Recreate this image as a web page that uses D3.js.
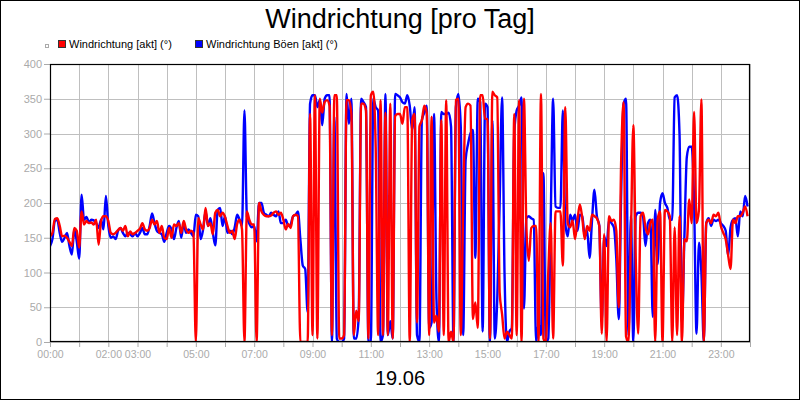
<!DOCTYPE html>
<html>
<head>
<meta charset="utf-8">
<script src="https://cdn.jsdelivr.net/npm/d3@7"></script>
<style>
  html, body { margin: 0; padding: 0; background: #fff; }
  svg { display: block; }
  text { font-family: Arial, "Liberation Sans", sans-serif; }
</style>
</head>
<body>
<svg id="chart" width="800" height="400"></svg>
<script>
// ---- data (5-minute values, 00:00 .. 23:55) ----
const title = "Windrichtung [pro Tag]";
const dateLabel = "19.06";
const seriesNames = ["Windrichtung [akt] (°)", "Windrichtung Böen [akt] (°)"];
const yTicks = [0, 50, 100, 150, 200, 250, 300, 350, 400];
const xTickHours = [0,1,2,3,4,5,6,7,8,9,10,11,12,13,14,15,16,17,18,19,20,21,22,23,24];
const xLabelHours = ["00:00", null, "02:00", "03:00", null, "05:00", null, "07:00", null, "09:00", null, "11:00", null, "13:00", null, "15:00", null, "17:00", null, "19:00", null, "21:00", null, "23:00", null];

const windDir = [
  152,157,177,178,167,152,153,150,144,138,164,160,
  136,188,169,174,171,172,169,176,140,174,181,181,
  174,157,155,157,161,164,160,167,152,159,155,157,
  160,163,171,162,160,164,176,169,174,157,167,150,
  148,164,150,169,167,171,157,174,162,157,160,157,
  0,178,169,162,193,167,171,155,186,190,181,186,
  180,167,157,160,148,170,176,162,0,188,176,169,
  169,0,200,188,183,181,181,182,186,188,183,186,
  176,162,170,164,181,183,181,0,0,0,0,328,
  10,355,5,350,330,345,348,340,10,355,355,5,
  5,10,348,348,328,10,45,30,343,343,333,5,
  355,360,280,10,348,10,330,10,343,5,325,328,
  328,314,338,338,0,319,328,28,310,319,340,330,
  10,324,28,38,15,319,10,348,0,15,0,348,
  350,10,200,338,343,340,33,57,20,355,355,321,
  321,5,360,355,352,71,40,5,15,10,5,328,
  10,348,0,350,165,117,164,167,167,0,357,5,
  0,100,171,5,188,188,188,110,338,171,165,175,
  148,175,198,178,148,167,160,183,181,178,167,12,
  155,0,181,174,176,160,50,262,345,8,0,150,
  312,119,12,181,186,165,155,171,176,0,176,188,
  0,190,188,181,0,165,10,181,0,148,145,205,
  171,331,171,190,349,0,171,176,171,183,181,186,
  167,157,148,125,105,176,171,181,181,186,195,181
];

const windDirGust = [
  138,148,174,176,157,144,150,157,138,126,162,145,
  120,212,176,180,172,176,175,171,164,176,162,210,
  167,150,152,148,160,164,157,152,157,155,152,157,
  152,157,164,155,155,167,185,171,160,157,155,144,
  157,167,162,148,164,174,150,171,157,162,157,152,
  183,181,148,162,188,167,178,157,139,190,193,167,
  181,157,160,155,165,183,176,167,333,181,170,165,
  167,145,200,200,186,183,181,186,183,181,188,171,
  171,176,167,169,181,183,188,148,110,105,43,343,
  355,355,338,348,312,350,355,355,0,324,5,0,
  0,5,357,314,350,5,5,35,350,345,338,0,
  0,350,338,333,0,10,357,10,30,5,357,355,
  352,345,343,355,340,305,338,10,0,319,330,340,
  20,28,328,62,0,331,328,328,330,310,0,338,
  357,310,10,262,285,300,305,121,350,345,15,343,
  338,0,319,5,60,200,352,100,0,15,20,300,
  333,340,352,48,178,181,178,176,0,26,10,243,
  0,5,176,350,195,193,193,333,171,152,183,175,
  183,160,183,181,152,160,121,175,219,181,167,28,
  152,138,176,171,165,119,33,214,343,350,10,181,
  0,181,186,186,180,138,171,176,36,190,112,200,
  214,200,193,176,176,352,355,300,28,150,266,281,
  281,200,12,143,100,0,171,178,167,176,174,176,
  171,167,160,124,165,176,178,152,188,181,210,195
];

// ---- drawing ----
const svg = d3.select("#chart");
const W = 800, H = 400;
const plot = { left: 50, right: 750, top: 64, bottom: 342 };

svg.append("rect").attr("x", 0.5).attr("y", 0.5).attr("width", W - 1).attr("height", H - 1)
  .attr("fill", "#fff").attr("stroke", "#000").attr("stroke-width", 1);

const x = d3.scaleLinear().domain([0, 24 * 60]).range([plot.left, plot.right]);
const y = d3.scaleLinear().domain([0, 400]).range([plot.bottom, plot.top]);

// grid
const grid = svg.append("g").attr("stroke", "#bfbfbf").attr("stroke-width", 1);
xTickHours.forEach(h => {
  const px = Math.round(x(h * 60)) + 0.5;
  grid.append("line").attr("x1", px).attr("x2", px).attr("y1", plot.top).attr("y2", plot.bottom);
});
yTicks.forEach(v => {
  const py = Math.round(y(v)) + 0.5;
  grid.append("line").attr("x1", plot.left).attr("x2", plot.right).attr("y1", py).attr("y2", py);
});

// axes
const gy = svg.append("g").attr("transform", `translate(${plot.left},0)`)
  .call(d3.axisLeft(y).tickValues(yTicks).tickSize(6).tickPadding(2).tickFormat(d3.format("d")));
const gx = svg.append("g").attr("transform", `translate(0,${plot.bottom})`)
  .call(d3.axisBottom(x).tickValues(xTickHours.map(h => h * 60)).tickSize(5).tickPadding(4)
    .tickFormat((d, i) => xLabelHours[i] || ""));
[gx, gy].forEach(g => {
  g.select(".domain").remove();
  g.selectAll(".tick line").attr("stroke", "#aaaaaa");
  g.selectAll(".tick text").attr("fill", "#aaaaaa").style("font-size", "11px")
    .style("font-family", "Arial, 'Liberation Sans', sans-serif");
});
gx.selectAll(".tick text").style("font-size", "10.5px");

// lines
const clipId = "plotclip";
svg.append("clipPath").attr("id", clipId).append("rect")
  .attr("x", plot.left).attr("y", plot.top - 2).attr("width", plot.right - plot.left).attr("height", plot.bottom - plot.top + 2);

const line = d3.line()
  .x((d, i) => x(i * 5))
  .y(d => y(d))
  .curve(d3.curveMonotoneX);

const lines = svg.append("g").attr("clip-path", `url(#${clipId})`);
lines.append("path").datum(windDirGust).attr("d", line)
  .attr("fill", "none").attr("stroke", "#0000ff").attr("stroke-width", 2.4).attr("stroke-linejoin", "round");
lines.append("path").datum(windDir).attr("d", line)
  .attr("fill", "none").attr("stroke", "#ff0000").attr("stroke-width", 2.4).attr("stroke-linejoin", "round");

// plot frame
svg.append("rect").attr("x", plot.left + 0.5).attr("y", plot.top + 0.5)
  .attr("width", plot.right - plot.left - 1).attr("height", plot.bottom - plot.top - 1)
  .attr("fill", "none").attr("stroke", "#000").attr("stroke-width", 1.2);

// title
svg.append("text").attr("x", 400).attr("y", 28).attr("text-anchor", "middle")
  .style("font-size", "27px").attr("fill", "#000").text(title);

// legend
svg.append("rect").attr("x", 45.5).attr("y", 44.5).attr("width", 3).attr("height", 3)
  .attr("fill", "none").attr("stroke", "#aaaaaa").attr("stroke-width", 1);
const legendItems = [
  { name: seriesNames[0], color: "#ff0000", x: 58 },
  { name: seriesNames[1], color: "#0000ff", x: 195 }
];
legendItems.forEach(it => {
  svg.append("rect").attr("x", it.x + 0.5).attr("y", 40.5).attr("width", 7).attr("height", 7)
    .attr("fill", it.color).attr("stroke", "#333").attr("stroke-width", 1);
  svg.append("text").attr("x", it.x + 11).attr("y", 48).style("font-size", "11px")
    .attr("fill", "#000").text(it.name);
});

// date label
svg.append("text").attr("x", 400).attr("y", 385).attr("text-anchor", "middle")
  .style("font-size", "20px").attr("fill", "#000").text(dateLabel);
</script>
</body>
</html>
